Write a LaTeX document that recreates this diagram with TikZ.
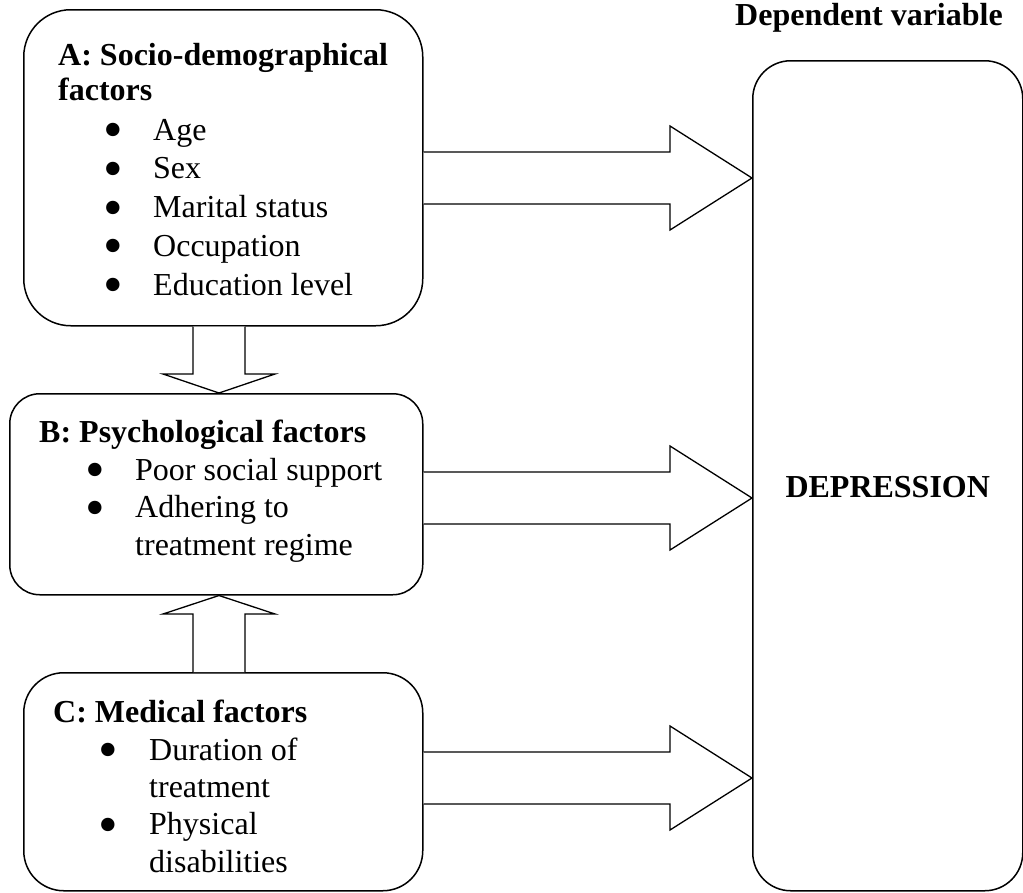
\documentclass[tikz,border=0pt]{standalone}
\usepackage{fontspec}
\setmainfont{Liberation Serif}
\newcommand\bigbul{\makebox[0pt]{\smash{\raisebox{-8.5pt}{\fontsize{56}{56}\selectfont\textbullet}}}}
\begin{document}
\begin{tikzpicture}[x=1pt,y=-1pt,
  box/.style={draw, line width=1.5pt, rounded corners=#1, inner sep=0pt, anchor=north west},
  blockarrow/.style={draw, line width=1.3pt, line join=miter, fill=white},
  head/.style={font=\bfseries\fontsize{32}{35}\selectfont, inner sep=0pt, anchor=base west},
  lst/.style={font=\fontsize{32}{#1}\selectfont, inner sep=0pt, anchor=base west}]
\useasboundingbox (0,0) rectangle (1023,892);
% boxes
\node[box=47pt, minimum width=399pt, minimum height=316pt] (A) at (23,9) {};
\node[box=30pt, minimum width=413pt, minimum height=201pt] (B) at (9,393) {};
\node[box=40pt, minimum width=399pt, minimum height=218pt] (C) at (23,672) {};
\node[box=38pt, minimum width=270pt, minimum height=830pt] (D) at (752,60) {};
% texts
\node[head] (Ah) at (58,65) {\begin{tabular}[t]{@{}l@{}}A: Socio-demographical\\factors\end{tabular}};
\node[lst=38.8] (Al) at (113,140) {\begin{tabular}[t]{@{}l@{}}
\bigbul\hspace{40pt}Age\\
\bigbul\hspace{40pt}Sex\\
\bigbul\hspace{40pt}Marital status\\
\bigbul\hspace{40pt}Occupation\\
\bigbul\hspace{40pt}Education level\end{tabular}};
\node[head] (Bh) at (39,442) {B: Psychological factors};
\node[lst=37.5] (Bl) at (95,480) {\begin{tabular}[t]{@{}l@{}}
\bigbul\hspace{40pt}Poor social support\\
\bigbul\hspace{40pt}Adhering to\\
\hspace{40pt}treatment regime\end{tabular}};
\node[head] (Ch) at (53,722) {C: Medical factors};
\node[lst=37.4] (Cl) at (108,760) {\begin{tabular}[t]{@{}l@{}}
\bigbul\hspace{41pt}Duration of\\
\hspace{41pt}treatment\\
\bigbul\hspace{41pt}Physical\\
\hspace{41pt}disabilities\end{tabular}};
\node[head] (Dv) at (735,25) {Dependent variable};
\node[font=\bfseries\fontsize{32}{35}\selectfont, inner sep=0pt, anchor=base] (Dt) at (D.center |- 0,497) {DEPRESSION};
% block arrows to D
\draw[blockarrow] (A.east |- 0,152) -- (670,152) -- (670,126) -- (D.west |- 0,178) -- (670,230) -- (670,204) -- (A.east |- 0,204);
\draw[blockarrow] (B.east |- 0,472) -- (670,472) -- (670,446) -- (D.west |- 0,498) -- (670,550) -- (670,524) -- (B.east |- 0,524);
\draw[blockarrow] (C.east |- 0,752) -- (670,752) -- (670,726) -- (D.west |- 0,778) -- (670,830) -- (670,804) -- (C.east |- 0,804);
% vertical block arrows
\draw[blockarrow] (193,0 |- A.south) -- (193,374) -- (163,374) -- (219,0 |- B.north) -- (275,374) -- (245,374) -- (245,0 |- A.south);
\draw[blockarrow] (193,0 |- C.north) -- (193,614) -- (163,614) -- (219,0 |- B.south) -- (275,614) -- (245,614) -- (245,0 |- C.north);
\end{tikzpicture}
\end{document}
